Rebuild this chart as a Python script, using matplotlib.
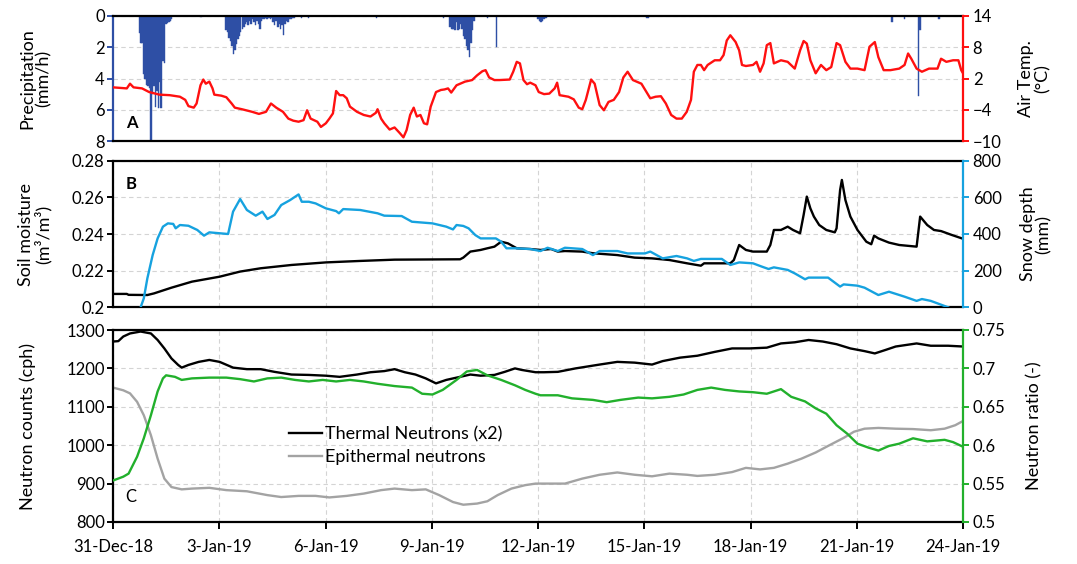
import matplotlib
matplotlib.use('Agg')
import matplotlib.pyplot as plt

plt.rcParams['font.family'] = ['Lato', 'DejaVu Sans']

# ---------------- data (x = days since 31-Dec-2018 00:00) ----------------
tick_days = [0, 3, 6, 9, 12, 15, 18, 21, 24]
tick_labels = ["31-Dec-18", "3-Jan-19", "6-Jan-19", "9-Jan-19", "12-Jan-19",
               "15-Jan-19", "18-Jan-19", "21-Jan-19", "24-Jan-19"]

# hourly precipitation (mm/h)
precip_day = [0.72, 0.76, 0.80, 0.84, 0.88, 0.93, 0.97, 1.01, 1.05, 1.09, 1.13,
              1.18, 1.22, 1.26, 1.30, 1.34, 1.38, 1.43, 1.47, 1.51, 1.55, 1.59,
              1.63,
              2.47,
              3.17, 3.21, 3.25, 3.29, 3.33, 3.38, 3.42, 3.46, 3.50, 3.54, 3.58,
              3.63, 3.67, 3.71, 3.75, 3.79, 3.83, 3.88, 3.92, 3.96, 4.00, 4.04,
              4.08, 4.13, 4.17, 4.21, 4.25, 4.29, 4.33, 4.38, 4.42, 4.46, 4.50,
              4.54, 4.58, 4.63, 4.67, 4.71, 4.75, 4.79, 4.83, 4.88, 4.92, 4.96,
              5.00, 5.04, 5.08, 5.30, 5.50,
              7.42, 9.31,
              9.50, 9.54, 9.58, 9.63, 9.67, 9.71, 9.75, 9.79, 9.83, 9.88, 9.92,
              9.96, 10.00, 10.04, 10.08, 10.13, 10.17,
              10.55, 10.80,
              11.98, 12.02, 12.06, 12.10, 12.15, 12.20,
              15.05, 15.10,
              21.98, 22.33, 22.72, 22.76, 23.30]
precip_mm = [1.1, 1.7, 1.7, 3.7, 4.0, 4.4, 4.5, 4.6, 8.0, 5.0, 4.5,
             5.8, 4.8, 5.9, 4.2, 5.9, 2.9, 3.0, 0.5, 0.45, 0.4, 0.3,
             0.2,
             0.05,
             0.9, 1.0, 1.4, 1.6, 1.9, 2.4, 2.2, 1.8, 1.5, 1.3, 1.0,
             0.8, 0.7, 0.5, 0.4, 0.6, 0.3, 0.5, 0.2, 0.4, 0.6, 0.3,
             0.5, 0.8, 0.3, 0.2, 0.2, 0.1, 0.2, 0.1, 0.2, 0.1, 0.4,
             0.6, 0.3, 0.7, 0.5, 0.8, 0.6, 1.2, 0.5, 0.3, 0.4, 0.2,
             0.2, 0.1, 0.1, 0.1, 0.1,
             0.15, 0.1,
             0.7, 0.8, 0.8, 0.9, 0.4, 0.9, 0.8, 0.5, 0.8, 1.3, 1.5,
             1.9, 2.2, 2.6, 1.7, 0.9, 0.3,
             0.1, 2.0,
             0.2, 0.3, 0.4, 0.3, 0.2, 0.1,
             0.1, 0.15,
             0.4, 0.2, 5.1, 0.9, 0.2]

# air temperature (deg C)
temp_day = [0.00, 0.39, 0.48, 0.58, 0.82, 1.02, 1.31, 1.60, 1.89, 2.04, 2.13,
            2.28, 2.36, 2.47, 2.55, 2.62, 2.72, 2.81, 2.86, 3.06, 3.20, 3.35,
            3.44, 3.64, 3.93, 4.12, 4.32, 4.46, 4.61, 4.80, 4.95, 5.09, 5.24,
            5.38, 5.48, 5.58, 5.77, 5.87, 6.01, 6.11, 6.21, 6.30, 6.40, 6.50,
            6.60, 6.69, 6.89, 7.08, 7.27, 7.42, 7.47, 7.57, 7.66, 7.81, 7.95,
            8.10, 8.20, 8.29, 8.39, 8.49, 8.58, 8.68, 8.78, 8.87, 8.97, 9.12,
            9.26, 9.36, 9.46, 9.55, 9.70, 9.94, 10.14, 10.28, 10.43, 10.52,
            10.62, 10.77, 10.91, 11.20, 11.30, 11.40, 11.49, 11.59, 11.69,
            11.78, 11.93, 12.02, 12.17, 12.32, 12.47, 12.54, 12.61, 12.86,
            13.01, 13.15, 13.25, 13.35, 13.50, 13.60, 13.74, 13.86, 13.99,
            14.14, 14.29, 14.41, 14.53, 14.68, 14.92, 15.17, 15.32, 15.47,
            15.61, 15.76, 15.91, 16.06, 16.20, 16.32, 16.40, 16.50, 16.60,
            16.69, 16.79, 16.99, 17.14, 17.24, 17.33, 17.43, 17.58, 17.68,
            17.76, 17.87, 18.07, 18.17, 18.27, 18.37, 18.46, 18.56, 18.66,
            18.86, 19.05, 19.25, 19.40, 19.50, 19.59, 19.69, 19.84, 19.99,
            20.14, 20.28, 20.43, 20.53, 20.68, 20.82, 21.02, 21.22, 21.36,
            21.51, 21.61, 21.76, 21.95, 22.20, 22.35, 22.45, 22.54, 22.69,
            22.84, 23.04, 23.28, 23.38, 23.53, 23.72, 23.87, 23.95, 24.00]
temp_c = [0.3, 0.1, 1.0, 0.3, 0.1, -0.6, -1.1, -1.2, -1.5, -2.1, -3.3,
          -3.6, -2.8, 0.7, 1.8, 1.0, 1.4, 0.1, -1.1, -1.3, -1.6, -2.8,
          -3.6, -3.9, -4.4, -4.8, -4.4, -2.8, -3.6, -4.4, -5.7, -6.1, -6.3,
          -6.0, -4.1, -5.7, -6.3, -7.3, -6.6, -5.7, -4.7, -0.4, -1.2, -1.2,
          -1.8, -3.4, -4.4, -5.0, -5.3, -4.6, -3.9, -5.7, -6.6, -7.8, -7.4,
          -8.5, -9.3, -7.9, -5.0, -3.6, -5.3, -5.0, -6.6, -6.8, -3.4, -0.6,
          -0.2, -0.1, 0.1, -0.7, 0.7, 1.4, 1.7, 2.6, 3.4, 3.6,
          2.2, 1.7, 1.7, 1.8, 3.3, 5.2, 4.9, 1.7, 0.9,
          1.2, 0.7, -0.6, -1.0, -0.9, 0.1, 1.2, -1.2, -1.5,
          -2.0, -3.6, -3.9, -2.1, 1.8, 1.0, -3.1, -4.1, -2.5,
          -2.1, -0.6, 2.2, 3.3, 1.7, 1.0, -1.8, -1.5, -1.4,
          -2.8, -5.0, -5.7, -5.7, -4.4, -2.1, 3.3, 4.6, 4.6,
          3.6, 4.6, 5.5, 5.5, 6.5, 9.3, 10.3, 9.0, 7.4,
          4.6, 4.4, 4.6, 5.2, 3.3, 4.9, 8.4, 8.8, 4.9,
          5.5, 5.2, 3.9, 7.4, 9.2, 8.7, 5.5, 3.0, 4.6,
          3.6, 4.2, 8.8, 8.4, 5.2, 3.9, 3.9, 3.6, 8.1,
          9.0, 6.1, 3.6, 3.6, 3.9, 4.6, 6.8, 5.8, 3.9,
          3.3, 3.9, 3.9, 5.8, 5.2, 5.5, 5.5, 3.6, 3.0]

# soil moisture (m3/m3)
sm_day = [0.00, 0.39, 0.44, 0.97, 1.16, 1.65, 2.23, 3.01, 3.59, 4.17, 5.04,
          6.01, 6.98, 7.95, 9.80, 9.89, 10.09, 10.38, 10.57, 10.77, 10.96,
          11.15, 11.40, 11.78, 12.07, 12.37, 12.56, 12.76, 13.25, 13.55,
          14.24, 14.73, 15.22, 15.71, 16.21, 16.60, 16.69, 17.43, 17.53,
          17.68, 17.87, 18.07, 18.46, 18.56, 18.66, 18.86, 19.05, 19.20,
          19.40, 19.50, 19.59, 19.69, 19.79, 19.94, 20.14, 20.38, 20.43,
          20.53, 20.58, 20.68, 20.82, 21.02, 21.27, 21.41, 21.49, 21.61,
          21.91, 22.20, 22.69, 22.79, 22.99, 23.18, 23.38, 23.68, 23.97]
sm_val = [0.2073, 0.2073, 0.2068, 0.2067, 0.2076, 0.2107, 0.2140, 0.2167,
          0.2195, 0.2213, 0.2231, 0.2245, 0.2253, 0.2260, 0.2262, 0.2271,
          0.2304, 0.2313, 0.2322, 0.2331, 0.2358, 0.2349, 0.2322, 0.2318,
          0.2313, 0.2318, 0.2304, 0.2307, 0.2304, 0.2295, 0.2285, 0.2271,
          0.2267, 0.2258, 0.2240, 0.2227, 0.2240, 0.2240, 0.2258, 0.2340,
          0.2313, 0.2304, 0.2304, 0.2340, 0.2422, 0.2422, 0.2440, 0.2422,
          0.2404, 0.2504, 0.2604, 0.2540, 0.2495, 0.2449, 0.2422, 0.2409,
          0.2431, 0.2640, 0.2695, 0.2585, 0.2495, 0.2422, 0.2358, 0.2344,
          0.2391, 0.2376, 0.2353, 0.2340, 0.2331, 0.2495, 0.2449, 0.2422,
          0.2416, 0.2395, 0.2376]

# snow depth (mm)
snow_day = [0.78, 0.87, 0.97, 1.12, 1.26, 1.41, 1.55, 1.70, 1.77, 1.89, 2.13,
            2.38, 2.57, 2.72, 3.01, 3.25, 3.39, 3.59, 3.78, 4.03, 4.22, 4.36,
            4.56, 4.75, 5.00, 5.24, 5.33, 5.53, 5.72, 6.01, 6.30, 6.38, 6.50,
            6.98, 7.47, 7.66, 8.15, 8.44, 8.63, 9.02, 9.41, 9.60, 9.70, 9.89,
            10.04, 10.23, 10.38, 10.67, 10.81, 10.96, 11.11, 11.35, 11.78,
            12.07, 12.27, 12.56, 12.76, 13.25, 13.55, 13.74, 14.24, 14.53,
            15.02, 15.17, 15.52, 15.91, 16.21, 16.40, 16.60, 17.19, 17.43,
            17.68, 18.07, 18.32, 18.51, 18.66, 19.05, 19.25, 19.54, 19.64,
            20.19, 20.53, 20.63, 21.02, 21.22, 21.61, 21.91, 22.35, 22.69,
            22.84, 23.09, 23.58]
snow_mm = [0, 49, 158, 285, 376, 440, 458, 455, 431, 449, 445,
           422, 391, 409, 404, 400, 522, 591, 531, 500, 522, 482,
           504, 558, 585, 616, 576, 576, 567, 540, 525, 513, 536,
           531, 513, 500, 498, 467, 464, 458, 440, 425, 449, 444,
           431, 394, 376, 376, 376, 358, 322, 322, 318,
           307, 325, 307, 325, 318, 285, 307, 307, 294,
           294, 304, 267, 280, 267, 253, 264, 264, 231,
           245, 240, 222, 209, 218, 204, 185, 153, 162,
           162, 113, 125, 118, 107, 67, 85, 58, 35,
           45, 35, 0]

# thermal neutrons (x2), cph
th_day = [0.00, 0.15, 0.29, 0.48, 0.78, 1.07, 1.26, 1.45, 1.65, 1.84, 1.94,
          2.13, 2.42, 2.72, 3.01, 3.39, 3.78, 4.17, 4.56, 5.04, 5.53, 6.01,
          6.40, 6.89, 7.27, 7.66, 7.95, 8.24, 8.54, 8.83, 9.12, 9.41, 9.80,
          10.09, 10.38, 10.77, 11.06, 11.35, 11.54, 11.93, 12.17, 12.56,
          13.06, 13.74, 14.24, 14.73, 15.22, 15.52, 16.01, 16.50, 16.99,
          17.48, 17.97, 18.46, 18.86, 19.25, 19.64, 20.04, 20.43, 20.82,
          21.22, 21.51, 21.81, 22.10, 22.69, 23.09, 23.58, 24.00]
th_cph = [1270, 1271, 1283, 1291, 1296, 1291, 1274, 1252, 1226, 1209, 1202,
          1209, 1217, 1222, 1217, 1202, 1198, 1198, 1191, 1184, 1183, 1181,
          1178, 1184, 1190, 1193, 1198, 1190, 1184, 1174, 1161, 1170, 1178,
          1184, 1181, 1183, 1191, 1200, 1196, 1190, 1190, 1191,
          1200, 1210, 1217, 1215, 1210, 1219, 1228, 1233, 1243,
          1252, 1252, 1254, 1265, 1268, 1274, 1270, 1263, 1252,
          1245, 1239, 1248, 1257, 1265, 1259, 1259, 1257]

# epithermal neutrons, cph
ep_day = [0.00, 0.29, 0.48, 0.68, 0.87, 1.07, 1.26, 1.45, 1.65, 1.94, 2.23,
          2.72, 3.20, 3.78, 4.36, 4.75, 5.24, 5.72, 6.11, 6.60, 7.08, 7.57,
          7.95, 8.44, 8.83, 9.21, 9.60, 9.89, 10.28, 10.57, 10.86, 11.25,
          11.64, 11.93, 12.37, 12.76, 13.25, 13.74, 14.24, 14.73, 15.22,
          15.71, 16.21, 16.50, 16.99, 17.48, 17.87, 18.27, 18.66, 19.05,
          19.44, 19.84, 20.23, 20.63, 20.92, 21.22, 21.61, 22.10, 22.59,
          23.09, 23.48, 23.78, 24.00]
ep_cph = [1150, 1143, 1135, 1113, 1078, 1026, 965, 913, 891, 885, 887,
          889, 883, 880, 870, 865, 868, 868, 864, 868, 874, 883,
          887, 883, 885, 870, 852, 845, 848, 854, 870, 887,
          896, 900, 900, 900, 913, 923, 929, 923, 919,
          926, 923, 920, 923, 930, 941, 937, 941, 952,
          965, 981, 1000, 1019, 1035, 1043, 1045, 1043, 1042,
          1039, 1043, 1052, 1063]

# neutron ratio (-)
ratio_day = [0.00, 0.29, 0.44, 0.68, 0.87, 1.07, 1.26, 1.41, 1.50, 1.75, 1.94,
             2.23, 2.72, 3.20, 3.59, 3.98, 4.36, 4.75, 5.14, 5.53, 5.92, 6.30,
             6.69, 7.08, 7.47, 7.95, 8.44, 8.73, 9.02, 9.31, 9.70, 9.99,
             10.28, 10.57, 10.96, 11.35, 11.64, 11.93, 12.07, 12.56, 12.96,
             13.55, 13.94, 14.33, 14.83, 15.22, 15.71, 16.11, 16.50, 16.89,
             17.28, 17.68, 18.07, 18.46, 18.86, 19.15, 19.54, 19.84, 20.14,
             20.43, 20.73, 21.02, 21.32, 21.61, 21.91, 22.20, 22.59, 22.99,
             23.48, 23.72, 24.00]
ratio_val = [0.554, 0.559, 0.563, 0.585, 0.609, 0.639, 0.670, 0.687, 0.691,
             0.689, 0.685, 0.687, 0.688, 0.688, 0.686, 0.683, 0.687, 0.688,
             0.685, 0.683, 0.685, 0.683, 0.685, 0.683, 0.680, 0.677, 0.675,
             0.667, 0.666, 0.672, 0.685, 0.696, 0.698, 0.691, 0.685, 0.678,
             0.672, 0.667, 0.665, 0.665, 0.661, 0.659, 0.656, 0.659, 0.662,
             0.661, 0.663, 0.666, 0.672, 0.675, 0.672, 0.670, 0.669, 0.667,
             0.673, 0.663, 0.657, 0.648, 0.641, 0.626, 0.615, 0.602, 0.597,
             0.593, 0.599, 0.602, 0.609, 0.605, 0.607, 0.604, 0.598]

# ---------------- style ----------------
C_BLUE = '#2E4FA5'
C_RED = '#FF1010'
C_SKY = '#16A2DF'
C_GREEN = '#22B02C'
C_GRAY = '#A3A3A3'
GRID = dict(color='#D4D4D4', linestyle=(0, (4, 3)), linewidth=0.8)
FS_TICK = 12
FS_LAB = 13

fig = plt.figure(figsize=(10.77, 5.64), dpi=100)
L, W = 113 / 1077, 850 / 1077
axA = fig.add_axes([L, 1 - 141 / 564, W, 125 / 564])
axB = fig.add_axes([L, 1 - 307.3 / 564, W, 146.6 / 564])
axC = fig.add_axes([L, 1 - 522 / 564, W, 192 / 564])


def style(ax, ax2, lcol, rcol):
    for s in ['top', 'bottom']:
        ax.spines[s].set_linewidth(1.6)
        ax.spines[s].set_color('black')
    ax.spines['left'].set_color(lcol)
    ax.spines['left'].set_linewidth(1.6)
    ax2.spines['right'].set_color(rcol)
    ax2.spines['right'].set_linewidth(1.6)
    for s in ['top', 'bottom', 'left']:
        ax2.spines[s].set_visible(False)
    ax.spines['right'].set_visible(False)
    ax.tick_params(axis='y', direction='out', length=4, width=1.4,
                   color=lcol, labelsize=FS_TICK, pad=2)
    ax2.tick_params(axis='y', direction='out', length=4, width=1.4,
                    color=rcol, labelsize=FS_TICK, pad=3)
    ax.set_xlim(0, 24)
    ax.set_xticks(tick_days)


# ---- panel A ----
axA2 = axA.twinx()
axA.bar(precip_day, precip_mm, width=0.046, align='edge', color=C_BLUE,
        edgecolor=C_BLUE, linewidth=0.3)
axA.set_ylim(8, 0)
axA.set_yticks([0, 2, 4, 6, 8])
axA.yaxis.grid(True, **GRID)
axA.set_axisbelow(True)
axA2.plot(temp_day, temp_c, color=C_RED, lw=1.7)
axA2.set_ylim(-10, 14)
axA2.set_yticks([-10, -4, 2, 8, 14])
style(axA, axA2, C_BLUE, C_RED)
axA.tick_params(axis='x', bottom=False, labelbottom=False)
axA.set_ylabel('Precipitation\n(mm/h)', fontsize=FS_LAB, linespacing=1.0)
axA.yaxis.set_label_coords(-0.072, 0.5)
axA2.set_ylabel('Air Temp.\n(°C)', fontsize=FS_LAB, linespacing=1.0)
axA2.yaxis.set_label_coords(1.065, 0.5)
axA.text(0.015, 0.14, 'A', transform=axA.transAxes, fontsize=12,
         fontweight='bold', va='center')

# ---- panel B ----
axB2 = axB.twinx()
axB.plot(sm_day, sm_val, color='black', lw=1.7, zorder=3)
axB.set_ylim(0.2, 0.28)
axB.set_yticks([0.2, 0.22, 0.24, 0.26, 0.28])
axB.set_yticklabels(['0.2', '0.22', '0.24', '0.26', '0.28'])
axB.grid(True, **GRID)
axB.set_axisbelow(True)
axB2.plot(snow_day, snow_mm, color=C_SKY, lw=1.7)
axB2.set_ylim(0, 800)
axB2.set_yticks([0, 200, 400, 600, 800])
style(axB, axB2, 'black', C_SKY)
axB.tick_params(axis='x', bottom=False, labelbottom=False)
axB.set_ylabel('Soil moisture\n(m³/m³)', fontsize=FS_LAB, linespacing=1.0)
axB.yaxis.set_label_coords(-0.072, 0.5)
axB2.set_ylabel('Snow depth\n(mm)', fontsize=FS_LAB, linespacing=1.0)
axB2.yaxis.set_label_coords(1.067, 0.5)
axB.text(0.015, 0.84, 'B', transform=axB.transAxes, fontsize=12,
         fontweight='bold', va='center')

# ---- panel C ----
axC2 = axC.twinx()
axC.plot(th_day, th_cph, color='black', lw=1.7, label='Thermal Neutrons (x2)')
axC.plot(ep_day, ep_cph, color=C_GRAY, lw=1.7, label='Epithermal neutrons')
axC.set_ylim(800, 1300)
axC.set_yticks([800, 900, 1000, 1100, 1200, 1300])
axC.grid(True, **GRID)
axC.set_axisbelow(True)
axC2.plot(ratio_day, ratio_val, color=C_GREEN, lw=1.7)
axC2.set_ylim(0.5, 0.75)
axC2.set_yticks([0.5, 0.55, 0.6, 0.65, 0.7, 0.75])
axC2.set_yticklabels(['0.5', '0.55', '0.6', '0.65', '0.7', '0.75'])
style(axC, axC2, 'black', C_GREEN)
axC.set_xticklabels(tick_labels)
axC.tick_params(axis='x', direction='out', length=5, width=1.4,
                labelsize=FS_TICK, pad=7)
axC.set_ylabel('Neutron counts (cph)', fontsize=FS_LAB)
axC.yaxis.set_label_coords(-0.091, 0.5)
axC2.set_ylabel('Neutron ratio (-)', fontsize=FS_LAB)
axC2.yaxis.set_label_coords(1.075, 0.5)
axC.text(0.015, 0.13, 'C', transform=axC.transAxes, fontsize=12,
         va='center')
axC.legend(loc='upper left', bbox_to_anchor=(0.188, 0.585), frameon=False,
           fontsize=13, handlelength=1.8, handletextpad=0.2,
           labelspacing=0.4)

fig.savefig('out.png', dpi=100)
